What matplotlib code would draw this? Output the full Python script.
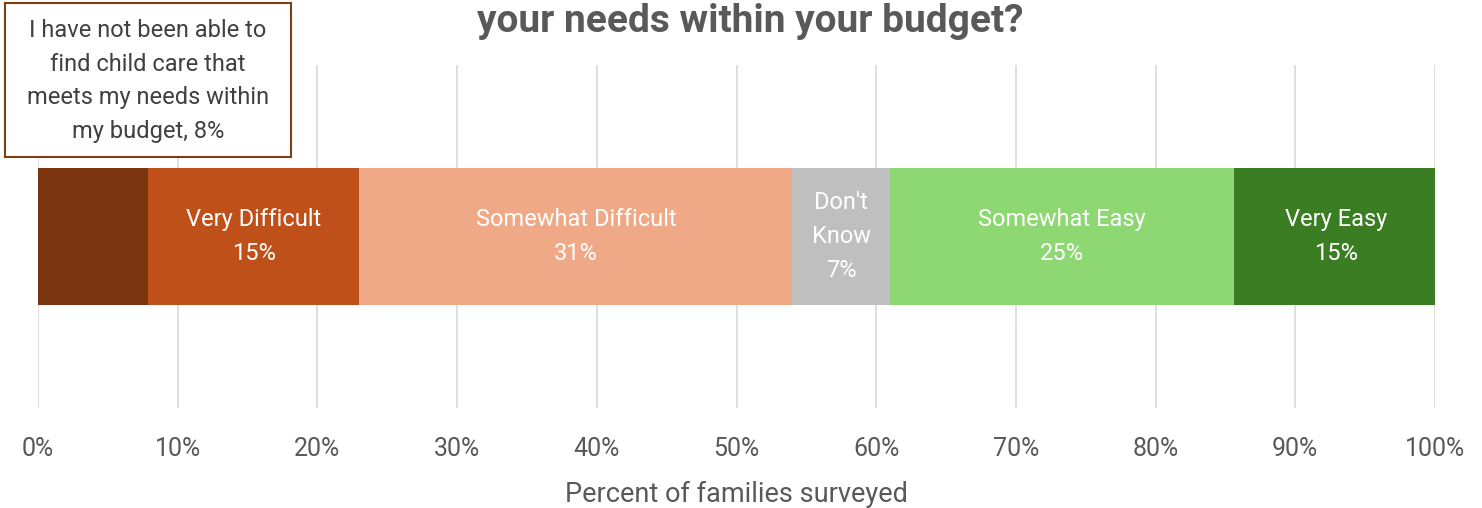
import matplotlib
matplotlib.use("Agg")
from matplotlib import pyplot as plt
from matplotlib.patches import Rectangle

# Data
categories = ["I have not been able to\nfind child care that\nmeets my needs within\nmy budget",
              "Very Difficult", "Somewhat Difficult", "Don't\nKnow", "Somewhat Easy", "Very Easy"]
values = [7.9, 15.1, 31.0, 7.0, 24.6, 14.6]
colors = ["#7B3410", "#C0501A", "#F0A987", "#BFBFBF", "#8ED873", "#3B7D23"]
xticks = [0, 10, 20, 30, 40, 50, 60, 70, 80, 90, 100]

W, H = 1482, 508
fig = plt.figure(figsize=(14.82, 5.08), dpi=100)
ax = fig.add_axes([38 / W, 1 - 408 / H, (1435 - 38) / W, (408 - 65) / H])

left = 0
for i, (cat, val, col) in enumerate(zip(categories, values, colors)):
    ax.barh(0, val, left=left, height=0.4, color=col, zorder=3)
    if i > 0:
        ax.text(left + val / 2, 0, f"{cat}\n{val:.0f}%", ha="center", va="center",
                color="white", fontsize=17, family="Roboto", linespacing=1.6, zorder=4)
    left += val

ax.set_xlim(0, 100)
ax.set_ylim(-0.5, 0.5)
ax.set_xticks(xticks)
ax.set_xticklabels([f"{t}%" for t in xticks], family="Roboto", fontsize=18, color="#595959")
ax.set_yticks([])
ax.tick_params(axis="x", length=0, pad=21)
ax.grid(axis="x", color="#D9D9D9", linewidth=1.2, zorder=0)
for s in ax.spines.values():
    s.set_visible(False)
ax.set_xlabel("Percent of families surveyed", family="Roboto", fontsize=19.5, color="#595959", labelpad=14)

# callout for first segment
fig.patches.append(Rectangle((5 / W, 1 - 157 / H), 286 / W, 154 / H, transform=fig.transFigure,
                             facecolor="white", edgecolor="#843C0C", linewidth=1.5, zorder=5))
fig.text(148 / W, 1 - 81 / H, f"{categories[0]}, {values[0]:.0f}%", ha="center", va="center",
         fontsize=17, family="Roboto", color="#404040", linespacing=1.6, zorder=6)

fig.text(750 / W, 1 - 22 / H, "your needs within your budget?", ha="center", va="center",
         fontsize=28, fontweight="bold", family="Roboto", color="#595959")

fig.savefig("out.png", dpi=100)
